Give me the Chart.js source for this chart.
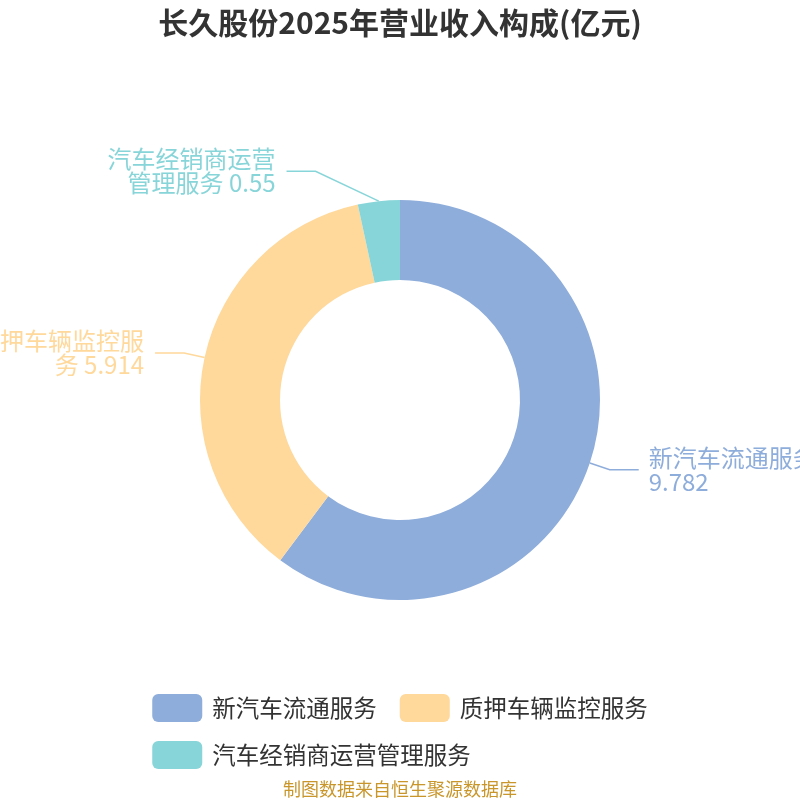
<!DOCTYPE html>
<html>
<head>
<meta charset="utf-8">
<script src="https://cdn.jsdelivr.net/npm/chart.js@4/dist/chart.umd.min.js"></script>
<style>
  body { margin: 0; background: #fff; }
  canvas { display: block; }
</style>
</head>
<body>
<canvas id="revenueChart" width="800" height="800"></canvas>
<script>
const chartTitle = '长久股份2025年营业收入构成(亿元)';
const categories = ['新汽车流通服务', '质押车辆监控服务', '汽车经销商运营管理服务'];
const revenue = [9.782, 5.914, 0.55];
const sliceColors = ['#8eaddb', '#ffd89b', '#88d5d9'];
const sourceNote = '制图数据来自恒生聚源数据库';

const FONT = '"Noto Sans CJK SC", "Noto Sans", sans-serif';

// extra shift for the small slice's label elbow (label collision avoidance)
const elbowShift = [{ dx: 0, dy: 0 }, { dx: 0, dy: 0 }, { dx: -61, dy: -9 }];

function wrapText(ctx, text, maxWidth) {
    const lines = [];
    let line = '';
    for (const ch of text) {
        if (ctx.measureText(line + ch).width > maxWidth && line !== '') {
            lines.push(line);
            line = ch === ' ' ? '' : ch;
        } else {
            line += ch;
        }
    }
    if (line) lines.push(line);
    return lines;
}

const decorPlugin = {
    id: 'decor',
    afterDraw(chart) {
        const ctx = chart.ctx;
        ctx.save();

        // title
        ctx.fillStyle = '#333';
        ctx.font = 'bold 30px ' + FONT;
        ctx.textAlign = 'center';
        ctx.textBaseline = 'middle';
        ctx.fillText(chartTitle, 400, 23);

        // outside labels with leader lines
        const meta = chart.getDatasetMeta(0);
        ctx.font = '24px ' + FONT;
        meta.data.forEach(function (arc, i) {
            const p = arc.getProps(['x', 'y', 'startAngle', 'endAngle', 'outerRadius'], true);
            const mid = (p.startAngle + p.endAngle) / 2;
            const cos = Math.cos(mid), sin = Math.sin(mid);
            const x0 = p.x + cos * p.outerRadius;
            const y0 = p.y + sin * p.outerRadius;
            const x1 = p.x + cos * (p.outerRadius + 21) + elbowShift[i].dx;
            const y1 = p.y + sin * (p.outerRadius + 21) + elbowShift[i].dy;
            const right = cos >= 0;
            const x2 = x1 + (right ? 29 : -29);

            ctx.strokeStyle = sliceColors[i];
            ctx.lineWidth = 1.5;
            ctx.beginPath();
            ctx.moveTo(x0, y0);
            ctx.lineTo(x1, y1);
            ctx.lineTo(x2, y1);
            ctx.stroke();

            const lines = wrapText(ctx, categories[i] + ' ' + revenue[i], 172);
            const lh = 24;
            const tx = x2 + (right ? 10 : -11);
            ctx.fillStyle = sliceColors[i];
            ctx.textAlign = right ? 'left' : 'right';
            ctx.textBaseline = 'middle';
            lines.forEach(function (ln, k) {
                ctx.fillText(ln, tx, y1 + (k - (lines.length - 1) / 2) * lh);
            });
        });

        // legend: rows left-aligned, block centered
        ctx.font = '23.5px ' + FONT;
        const boxW = 50, boxH = 28, gap = 10, itemGap = 23, rowH = 47, maxW = 720;
        const items = categories.map(function (c, i) {
            return { text: c, color: sliceColors[i], w: boxW + gap + ctx.measureText(c).width };
        });
        const rows = [[]];
        let rowW = 0;
        items.forEach(function (it) {
            const add = (rows[rows.length - 1].length ? itemGap : 0) + it.w;
            if (rowW + add > maxW && rows[rows.length - 1].length) {
                rows.push([it]);
                rowW = it.w;
            } else {
                rows[rows.length - 1].push(it);
                rowW += add;
            }
        });
        const widths = rows.map(function (r) {
            return r.reduce(function (s, it, k) { return s + it.w + (k ? itemGap : 0); }, 0);
        });
        const blockW = Math.max.apply(null, widths);
        const left = (800 - blockW) / 2;
        rows.forEach(function (r, ri) {
            const cy = 708 + ri * rowH;
            let x = left;
            r.forEach(function (it) {
                ctx.fillStyle = it.color;
                ctx.beginPath();
                ctx.roundRect(x, cy - boxH / 2, boxW, boxH, 6);
                ctx.fill();
                ctx.fillStyle = '#333';
                ctx.textAlign = 'left';
                ctx.textBaseline = 'middle';
                ctx.fillText(it.text, x + boxW + gap, cy);
                x += it.w + itemGap;
            });
        });

        // source note
        ctx.fillStyle = '#c9962b';
        ctx.font = '18px ' + FONT;
        ctx.textAlign = 'center';
        ctx.textBaseline = 'middle';
        ctx.fillText(sourceNote, 400, 789);

        ctx.restore();
    }
};

new Chart(document.getElementById('revenueChart').getContext('2d'), {
    type: 'doughnut',
    data: {
        labels: categories,
        datasets: [{
            data: revenue,
            backgroundColor: sliceColors,
            borderWidth: 0,
            hoverOffset: 0
        }]
    },
    options: {
        responsive: false,
        animation: false,
        cutout: '60%',
        layout: { padding: { top: 200, bottom: 200, left: 200, right: 200 } },
        plugins: {
            legend: { display: false },
            title: { display: false },
            tooltip: { enabled: false }
        }
    },
    plugins: [decorPlugin]
});
</script>
</body>
</html>
